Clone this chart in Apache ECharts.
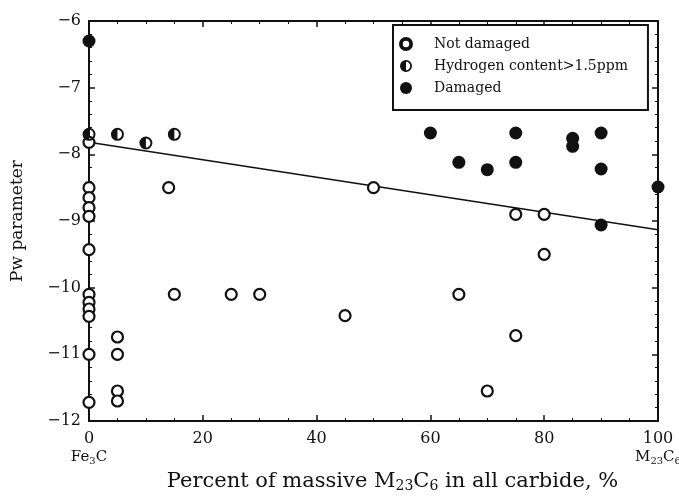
<!DOCTYPE html>
<html><head><meta charset="utf-8">
<script src="https://cdn.jsdelivr.net/npm/echarts@6/dist/echarts.min.js"></script>
<style>html,body{margin:0;padding:0;background:#fff}#c{width:679px;height:497px}</style>
</head><body><div id="c"></div>
<script>
const notDamagedX = [0,0,0,0,0,0,0,0,0,0,0,0,5,5,5,5,14,15,25,30,45,50,65,70,75,75,80,80];
const notDamagedY = [-7.82,-8.5,-8.65,-8.8,-8.93,-9.43,-10.1,-10.22,-10.32,-10.43,-11.0,-11.72,-10.74,-11.0,-11.55,-11.7,-8.5,-10.1,-10.1,-10.1,-10.42,-8.5,-10.1,-11.55,-8.9,-10.72,-8.9,-9.5];
const hydrogenX = [0,5,10,15];
const hydrogenY = [-7.7,-7.7,-7.83,-7.7];
const damagedX = [0,60,65,70,75,75,85,85,90,90,90,100];
const damagedY = [-6.3,-7.68,-8.12,-8.23,-7.68,-8.12,-7.76,-7.88,-7.68,-8.22,-9.06,-8.49];
const fitX = [0,100];
const fitY = [-7.82,-9.13];
const xTickValues = [0,20,40,60,80,100];
const xTickLabels = ['0\n{sm|Fe}{sub|3}{sm|C}','20','40','60','80','100\n{sm|M}{sub|23}{sm|C}{sub|6}'];
const yTickValues = [-12,-11,-10,-9,-8,-7,-6];
const yTickLabels = ['\u221212','\u221211','\u221210','\u22129','\u22128','\u22127','\u22126'];
const seriesNames = ['Not damaged','Hydrogen content>1.5ppm','Damaged'];

const zip = (xs, ys) => xs.map((x, i) => [x, ys[i]]);
const FONT = 'DejaVu Serif';
const ringIcon = 'path://M10 0A10 10 0 1 1 10 20A10 10 0 1 1 10 0ZM10 3A7 7 0 1 0 10 17A7 7 0 1 0 10 3Z';
const halfIcon = 'path://M10 0A10 10 0 1 1 10 20A10 10 0 1 1 10 0ZM10 3A7 7 0 1 0 10 17A7 7 0 1 0 10 3ZM10 3A7 7 0 0 0 10 17Z';

const chart = echarts.init(document.getElementById('c'), null, {renderer: 'canvas'});
const axisCommon = {
  min: 0, max: 100, interval: 20,
  axisLine: {show: true, onZero: false, lineStyle: {color: '#111', width: 2}},
  axisTick: {show: true, inside: true, length: 6, lineStyle: {color: '#111', width: 1.5}},
  minorTick: {show: true, splitNumber: 4, length: 3, lineStyle: {color: '#111', width: 1}},
  splitLine: {show: false}
};
const yCommon = {
  min: -12, max: -6, interval: 1,
  axisLine: {show: true, onZero: false, lineStyle: {color: '#111', width: 2}},
  axisTick: {show: true, inside: true, length: 6, lineStyle: {color: '#111', width: 1.5}},
  minorTick: {show: true, splitNumber: 5, length: 3, lineStyle: {color: '#111', width: 1}},
  splitLine: {show: false}
};
chart.setOption({
  backgroundColor: '#fff',
  animation: false,
  grid: {left: 89, right: 21, top: 21, bottom: 76, containLabel: false, outerBoundsMode: 'none'},
  legend: {
    orient: 'vertical', left: 393, top: 25,
    backgroundColor: '#fff', borderColor: '#111', borderWidth: 2, borderRadius: 0,
    padding: [12, 20, 15, 6], itemGap: 8, itemWidth: 12, itemHeight: 12,
    textStyle: {fontFamily: FONT, fontSize: 14, color: '#111', padding: [0, 0, 0, 17]},
    data: [
      {name: seriesNames[0], icon: ringIcon},
      {name: seriesNames[1], icon: halfIcon},
      {name: seriesNames[2], icon: 'circle'}
    ]
  },
  xAxis: [
    Object.assign({}, axisCommon, {
      type: 'value', position: 'bottom',
      name: 'Percent of massive M{sub|23}C{sub|6} in all carbide, %',
      nameLocation: 'middle', nameGap: 48,
      nameTextStyle: {fontFamily: FONT, fontSize: 21, color: '#111', padding: [0, 0, 0, 38],
        rich: {sub: {fontFamily: FONT, fontSize: 14, color: '#111', verticalAlign: 'bottom', padding: [9, 0, 0, 0]}}},
      axisLabel: {
        fontFamily: FONT, fontSize: 16, color: '#111', margin: 9, lineHeight: 18,
        formatter: v => { const i = xTickValues.indexOf(v); return i >= 0 ? xTickLabels[i] : ''; },
        rich: {
          sm: {fontFamily: FONT, fontSize: 15, color: '#111'},
          sub: {fontFamily: FONT, fontSize: 10, color: '#111', verticalAlign: 'bottom', padding: [7, 0, 0, 0]}
        }
      }
    }),
    Object.assign({}, axisCommon, {type: 'value', position: 'top', axisLabel: {show: false}})
  ],
  yAxis: [
    Object.assign({}, yCommon, {
      type: 'value', position: 'left',
      name: 'Pw parameter', nameLocation: 'middle', nameGap: 63, nameRotate: 90,
      nameTextStyle: {fontFamily: FONT, fontSize: 17, color: '#111'},
      axisLabel: {
        fontFamily: FONT, fontSize: 16, color: '#111', margin: 8,
        formatter: v => { const i = yTickValues.indexOf(v); return i >= 0 ? yTickLabels[i] : ''; }
      }
    }),
    Object.assign({}, yCommon, {type: 'value', position: 'right', axisLabel: {show: false}})
  ],
  series: [
    {
      name: 'fit', type: 'line', data: zip(fitX, fitY), showSymbol: false, symbol: 'none',
      lineStyle: {color: '#111', width: 1.6}, z: 1, silent: true
    },
    {
      name: seriesNames[0], type: 'scatter', data: zip(notDamagedX, notDamagedY),
      symbol: 'circle', symbolSize: 11,
      itemStyle: {color: '#fff', borderColor: '#111', borderWidth: 2.2, opacity: 1}, z: 3
    },
    {
      name: seriesNames[1], type: 'scatter', data: zip(hydrogenX, hydrogenY),
      symbol: halfIcon, symbolSize: 13,
      itemStyle: {color: '#111', opacity: 1}, z: 4
    },
    {
      name: seriesNames[2], type: 'scatter', data: zip(damagedX, damagedY),
      symbol: 'circle', symbolSize: 13,
      itemStyle: {color: '#111', opacity: 1}, z: 4
    }
  ]
});
</script></body></html>
